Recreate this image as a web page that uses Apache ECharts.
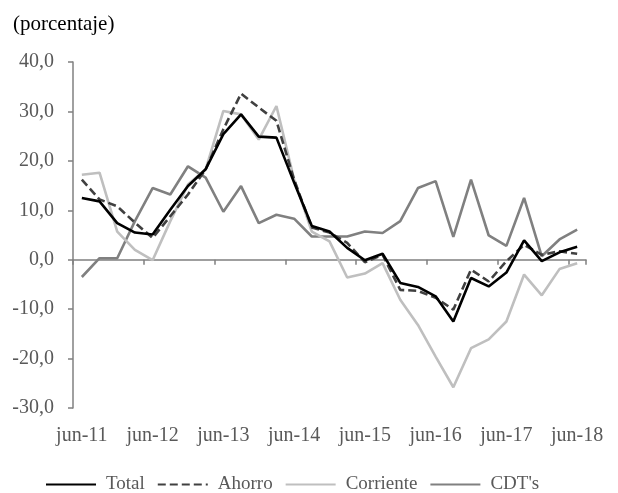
<!DOCTYPE html>
<html>
<head>
<meta charset="utf-8">
<script src="https://cdn.jsdelivr.net/npm/echarts@6/dist/echarts.min.js"></script>
<style>
  html, body { margin: 0; padding: 0; background: #fff; }
  #chart { width: 618px; height: 493px; }
</style>
</head>
<body>
<div id="chart"></div>
<script>
// trimestres jun-11 .. jun-18
var categories = [
  "jun-11", "sep-11", "dic-11", "mar-12",
  "jun-12", "sep-12", "dic-12", "mar-13",
  "jun-13", "sep-13", "dic-13", "mar-14",
  "jun-14", "sep-14", "dic-14", "mar-15",
  "jun-15", "sep-15", "dic-15", "mar-16",
  "jun-16", "sep-16", "dic-16", "mar-17",
  "jun-17", "sep-17", "dic-17", "mar-18",
  "jun-18"
];

var total = [12.5, 11.8, 7.4, 5.5, 5.1, 10.1, 14.9, 18.3, 25.4, 29.4, 24.9, 24.7,
  15.6, 6.8, 5.7, 2.4, -0.1, 1.2, -4.7, -5.5, -7.4, -12.5, -3.7, -5.4,
  -2.6, 3.9, -0.3, 1.5, 2.6];

var ahorro = [16.2, 12.2, 10.8, 7.5, 4.4, 8.8, 13.2, 18.3, 26.4, 33.6, 30.8, 28.1,
  16.2, 6.5, 5.5, 3.4, -0.5, 1.0, -6.1, -6.3, -7.7, -10.1, -2.0, -4.4,
  -0.3, 3.0, 1.0, 1.7, 1.2];

var corriente = [17.2, 17.6, 5.7, 2.0, -0.1, 7.8, 15.2, 18.3, 30.1, 29.4, 24.3, 31.1,
  16.2, 5.7, 3.7, -3.6, -2.8, -0.7, -8.1, -13.2, -19.6, -25.8, -17.9, -16.1,
  -12.5, -3.0, -7.2, -1.9, -0.7];

var cdts = [-3.5, 0.3, 0.3, 7.8, 14.5, 13.2, 18.9, 16.6, 9.7, 14.9, 7.4, 9.1,
  8.3, 4.7, 4.7, 4.7, 5.7, 5.4, 7.8, 14.5, 15.9, 4.6, 16.2, 4.9,
  2.8, 12.5, 0.7, 4.1, 6.1];

var font = "Liberation Serif";
var axisGray = "#808080";
var textGray = "#595959";

var chart = echarts.init(document.getElementById("chart"));

function mkLine(name, data, color, type) {
  return {
    name: name,
    type: "line",
    data: data,
    symbol: "none",
    xAxisIndex: 0,
    lineStyle: { color: color, width: 2.6, type: type || "solid" },
    itemStyle: { color: color },
    z: 3
  };
}

chart.setOption({
  animation: false,
  title: {
    text: "(porcentaje)",
    left: 8,
    top: 9,
    textStyle: { fontFamily: font, fontSize: 21, fontWeight: "normal", color: "#000" }
  },
  grid: { left: 73, right: 32, top: 62, bottom: 85 },
  legend: {
    left: 40,
    top: 470,
    itemWidth: 50,
    itemHeight: 3,
    itemGap: 12,
    itemStyle: { opacity: 0 },
    textStyle: { fontFamily: font, fontSize: 19, color: textGray, padding: [0, 0, 0, 5] },
    data: ["Total", "Ahorro", "Corriente", "CDT's"]
  },
  xAxis: [
    {
      type: "category",
      data: categories,
      boundaryGap: true,
      axisLine: { onZero: true, lineStyle: { color: axisGray, width: 1.5 } },
      axisTick: { show: true, interval: 3, length: 5, lineStyle: { color: axisGray, width: 1.5 } },
      axisLabel: { show: false },
      splitLine: { show: false }
    },
    {
      type: "category",
      data: categories,
      position: "bottom",
      boundaryGap: true,
      axisLine: { show: false, onZero: false },
      axisTick: { show: false },
      axisLabel: {
        interval: 3,
        margin: 18,
        fontFamily: font,
        fontSize: 20,
        color: textGray
      },
      splitLine: { show: false }
    }
  ],
  yAxis: {
    type: "value",
    min: -30,
    max: 40,
    interval: 10,
    axisLine: { show: true, lineStyle: { color: axisGray, width: 1.5 } },
    axisTick: { show: true, length: 5, lineStyle: { color: axisGray, width: 1.5 } },
    axisLabel: {
      margin: 19,
      fontFamily: font,
      fontSize: 20,
      color: textGray,
      formatter: function (v) { return v.toFixed(1).replace(".", ","); }
    },
    splitLine: { show: false }
  },
  series: [
    mkLine("CDT's", cdts, "#808080"),
    mkLine("Corriente", corriente, "#bfbfbf"),
    mkLine("Ahorro", ahorro, "#404040", [8, 4]),
    mkLine("Total", total, "#000000")
  ]
});
</script>
</body>
</html>
